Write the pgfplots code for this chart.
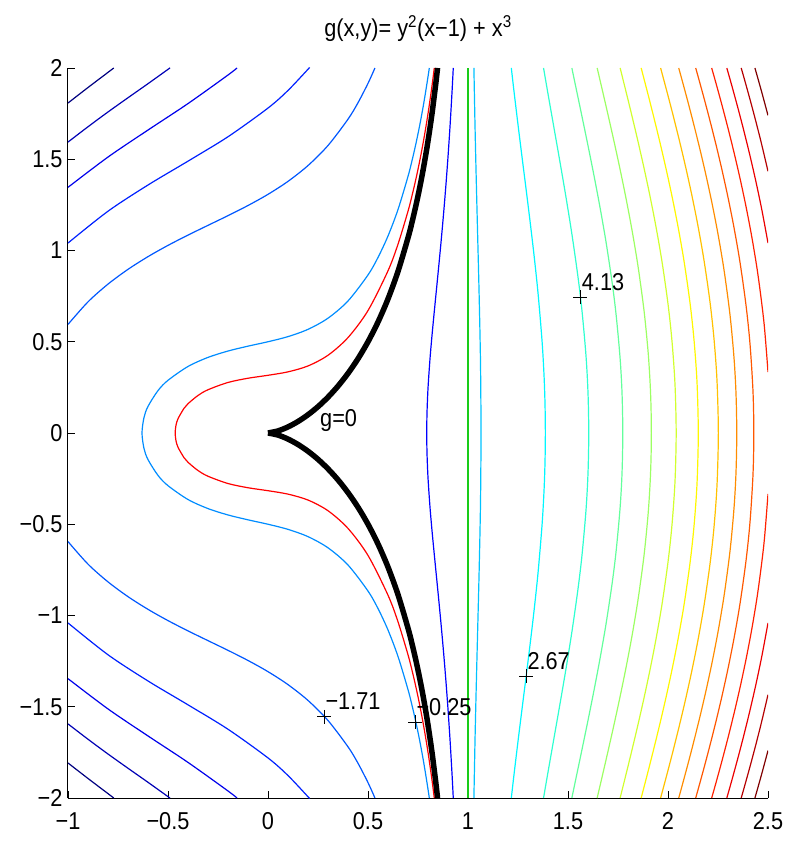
\documentclass[border=0pt]{standalone}
\usepackage{fontspec}
\setmainfont{Liberation Sans}
\usepackage{graphicx}
\usepackage{pgfplots}
\pgfplotsset{compat=1.18}
\definecolor{j1}{rgb}{0,0,0.5}
\definecolor{j2}{rgb}{0,0,0.71}
\definecolor{j3}{rgb}{0,0,0.92}
\definecolor{j4}{rgb}{0,0.13,1}
\definecolor{j5}{rgb}{0,0.34,1}
\definecolor{j6}{rgb}{0,0.55,1}
\definecolor{j7}{rgb}{0,0.76,1}
\definecolor{j8}{rgb}{0,0.97,1}
\definecolor{j9}{rgb}{0.18,1,0.82}
\definecolor{j10}{rgb}{0.39,1,0.61}
\definecolor{j11}{rgb}{0.61,1,0.39}
\definecolor{j12}{rgb}{0.82,1,0.18}
\definecolor{j13}{rgb}{1,0.97,0}
\definecolor{j14}{rgb}{1,0.76,0}
\definecolor{j15}{rgb}{1,0.55,0}
\definecolor{j16}{rgb}{1,0.34,0}
\definecolor{j17}{rgb}{1,0.13,0}
\definecolor{j18}{rgb}{0.92,0,0}
\definecolor{j19}{rgb}{0.71,0,0}
\definecolor{j20}{rgb}{0.5,0,0}
\definecolor{cgreen}{rgb}{0.1,0.8,0.1}
\newcommand\tf{\fontsize{24.5}{29}\selectfont}
\newcommand\sq[1]{\scalebox{0.89}[1]{#1}}
\begin{document}
\begin{tikzpicture}[x=1bp,y=1bp]
\useasboundingbox (-68,-45) rectangle (723,798);
\begin{axis}[
  at={(0,0)}, anchor=south west,
  scale only axis, width=700bp, height=730bp,
  xmin=-1, xmax=2.5, ymin=-2, ymax=2,
  axis x line*=bottom, axis y line*=left,
  axis line style={-, line width=1bp, black},
  tick align=inside, major tick length=7bp,
  tick style={black, line width=0.8bp},
  xtick={-1,-0.5,0,0.5,1,1.5,2,2.5},
  xticklabels={\sq{−1},\sq{−0.5},\sq{0},\sq{0.5},\sq{1},\sq{1.5},\sq{2},\sq{2.5}},
  ytick={-2,-1.5,-1,-0.5,0,0.5,1,1.5,2},
  yticklabels={\sq{−2},\sq{−1.5},\sq{−1},\sq{−0.5},\sq{0},\sq{0.5},\sq{1},\sq{1.5},\sq{2}},
  xticklabel style={font=\tf, yshift=-11bp},
  yticklabel style={font=\tf, xshift=-2bp},
  cl/.style={smooth, line width=1.2bp},
]
% level -7.54
\addplot[cl, j1] coordinates {(-1,1.808) (-0.9,1.893) (-0.8,1.976) (-0.771,2)};
\addplot[cl, j1] coordinates {(-1,-1.808) (-0.9,-1.893) (-0.8,-1.976) (-0.771,-2)};
% level -6.08
\addplot[cl, j2] coordinates {(-1,1.594) (-0.9,1.678) (-0.8,1.759) (-0.7,1.837) (-0.6,1.914) (-0.5,1.9925) (-0.4905,2)};
\addplot[cl, j2] coordinates {(-1,-1.594) (-0.9,-1.678) (-0.8,-1.759) (-0.7,-1.837) (-0.6,-1.914) (-0.5,-1.9925) (-0.4905,-2)};
% level -4.625
\addplot[cl, j3] coordinates {(-1,1.346) (-0.8,1.512) (-0.6,1.660) (-0.4,1.805) (-0.2,1.9615) (-0.155,2)};
\addplot[cl, j3] coordinates {(-1,-1.346) (-0.8,-1.512) (-0.6,-1.660) (-0.4,-1.805) (-0.2,-1.9615) (-0.155,-2)};
% level -3.17
\addplot[cl, j4] coordinates {(-1,1.0408) (-0.8,1.2152) (-0.6,1.3588) (-0.4,1.4895) (-0.2,1.6233) (0,1.7804) (0.1,1.877) (0.2,1.9931) (0.2053,2)};
\addplot[cl, j4] coordinates {(-1,-1.0408) (-0.8,-1.2152) (-0.6,-1.3588) (-0.4,-1.4895) (-0.2,-1.6233) (0,-1.7804) (0.1,-1.877) (0.2,-1.9931) (0.2053,-2)};
% level -1.71
\addplot[cl, j5] coordinates {(-1,0.595) (-0.9,0.7186) (-0.8,0.8158) (-0.7,0.8967) (-0.6,0.9663) (-0.5,1.028) (-0.4,1.0843) (-0.3,1.1378) (-0.2,1.1909) (-0.1,1.2465) (0,1.3077) (0.1,1.3788) (0.2,1.4654) (0.3,1.5753) (0.4,1.7195) (0.45,1.8096) (0.5,1.9157) (0.5347,2)};
\addplot[cl, j5] coordinates {(-1,-0.595) (-0.9,-0.7186) (-0.8,-0.8158) (-0.7,-0.8967) (-0.6,-0.9663) (-0.5,-1.028) (-0.4,-1.0843) (-0.3,-1.1378) (-0.2,-1.1909) (-0.1,-1.2465) (0,-1.3077) (0.1,-1.3788) (0.2,-1.4654) (0.3,-1.5753) (0.4,-1.7195) (0.45,-1.8096) (0.5,-1.9157) (0.5347,-2)};
% level -0.25
\addplot[cl, j6] coordinates {(0.8064,2) (0.8,1.9519) (0.78,1.8148) (0.76,1.6943) (0.74,1.5875) (0.72,1.4920) (0.7,1.4059) (0.65,1.2243) (0.6,1.0794) (0.55,0.9619) (0.5,0.8660) (0.4,0.7234) (0.3,0.6291) (0.2,0.5679) (0.1,0.5281) (0,0.5) (-0.1,0.4758) (-0.2,0.4491) (-0.3,0.4142) (-0.4,0.3645) (-0.5,0.2887) (-0.55,0.2323) (-0.6,0.1458) (-0.62,0.0849) (-0.63,0) (-0.62,-0.0849) (-0.6,-0.1458) (-0.55,-0.2323) (-0.5,-0.2887) (-0.4,-0.3645) (-0.3,-0.4142) (-0.2,-0.4491) (-0.1,-0.4758) (0,-0.5) (0.1,-0.5281) (0.2,-0.5679) (0.3,-0.6291) (0.4,-0.7234) (0.5,-0.8660) (0.55,-0.9619) (0.6,-1.0794) (0.65,-1.2243) (0.7,-1.4059) (0.72,-1.4920) (0.74,-1.5875) (0.76,-1.6943) (0.78,-1.8148) (0.8,-1.9519) (0.8064,-2)};
% level 1.21
\addplot[cl, j7] coordinates {(1.0295,2) (1.035,1.6871) (1.04,1.4446) (1.045,1.2217) (1.05,1.0071) (1.055,0.7873) (1.06,0.5372) (1.063,0.3375) (1.0651,0) (1.063,-0.3375) (1.06,-0.5372) (1.055,-0.7873) (1.05,-1.0071) (1.045,-1.2217) (1.04,-1.4446) (1.035,-1.6871) (1.0295,-2)};
% level 2.67
\addplot[cl, j8] coordinates {(1.2166,-2) (1.23,-1.8718) (1.25,-1.6894) (1.27,-1.5133) (1.29,-1.3390) (1.31,-1.1620) (1.33,-0.9755) (1.35,-0.7677) (1.37,-0.5075) (1.38,-0.3187) (1.385,-0.1606) (1.38675,0) (1.385,0.1606) (1.38,0.3187) (1.37,0.5075) (1.35,0.7677) (1.33,0.9755) (1.31,1.1620) (1.29,1.3390) (1.27,1.5133) (1.25,1.6894) (1.23,1.8718) (1.2166,2)};
% level 4.13
\addplot[cl, j9] coordinates {(1.3777,-2) (1.40,-1.8581) (1.43,-1.6711) (1.46,-1.4839) (1.49,-1.2913) (1.52,-1.0859) (1.55,-0.8540) (1.57,-0.6690) (1.59,-0.4225) (1.6,-0.2198) (1.6038,0) (1.6,0.2198) (1.59,0.4225) (1.57,0.6690) (1.55,0.8540) (1.52,1.0859) (1.49,1.2913) (1.46,1.4839) (1.43,1.6711) (1.40,1.8581) (1.3777,2)};
% level 5.58
\addplot[cl, j10] coordinates {(1.5192,-2) (1.54,-1.8910) (1.57,-1.7338) (1.60,-1.5744) (1.63,-1.4100) (1.66,-1.2364) (1.69,-1.0471) (1.72,-0.8290) (1.74,-0.6527) (1.76,-0.4160) (1.77,-0.2223) (1.7740,0) (1.77,0.2223) (1.76,0.4160) (1.74,0.6527) (1.72,0.8290) (1.69,1.0471) (1.66,1.2364) (1.63,1.4100) (1.60,1.5744) (1.57,1.7338) (1.54,1.8910) (1.5192,2)};
% level 7.04
\addplot[cl, j11] coordinates {(1.6458,-2) (1.67,-1.8864) (1.70,-1.7438) (1.73,-1.5980) (1.76,-1.4464) (1.79,-1.2859) (1.82,-1.1115) (1.85,-0.9140) (1.88,-0.6717) (1.9,-0.4506) (1.91,-0.2848) (1.915,-0.144) (1.9167,0) (1.915,0.144) (1.91,0.2848) (1.9,0.4506) (1.88,0.6717) (1.85,0.9140) (1.82,1.1115) (1.79,1.2859) (1.76,1.4464) (1.73,1.5980) (1.70,1.7438) (1.67,1.8864) (1.6458,2)};
% level 8.5
\addplot[cl, j12] coordinates {(1.7606,-2) (1.79,-1.8707) (1.82,-1.7361) (1.85,-1.5972) (1.88,-1.4520) (1.91,-1.2976) (1.94,-1.1292) (1.97,-0.9386) (2.0,-0.7071) (2.02,-0.5025) (2.035,-0.2649) (2.0408,0) (2.035,0.2649) (2.02,0.5025) (2.0,0.7071) (1.97,0.9386) (1.94,1.1292) (1.91,1.2976) (1.88,1.4520) (1.85,1.5972) (1.82,1.7361) (1.79,1.8707) (1.7606,2)};
% level 9.96
\addplot[cl, j13] coordinates {(1.8658,-2) (1.90,-1.8557) (1.93,-1.7256) (1.96,-1.5906) (1.99,-1.4487) (2.02,-1.2970) (2.05,-1.1310) (2.08,-0.9425) (2.11,-0.7131) (2.13,-0.5107) (2.145,-0.2790) (2.1514,0) (2.145,0.2790) (2.13,0.5107) (2.11,0.7131) (2.08,0.9425) (2.05,1.1310) (2.02,1.2970) (1.99,1.4487) (1.96,1.5906) (1.93,1.7256) (1.90,1.8557) (1.8658,2)};
% level 11.42
\addplot[cl, j14] coordinates {(1.963,-2) (2.0,-1.8484) (2.03,-1.7212) (2.06,-1.5885) (2.09,-1.4486) (2.12,-1.2985) (2.15,-1.1338) (2.18,-0.9462) (2.21,-0.7174) (2.23,-0.5157) (2.245,-0.2860) (2.2517,0) (2.245,0.2860) (2.23,0.5157) (2.21,0.7174) (2.18,0.9462) (2.15,1.1338) (2.12,1.2985) (2.09,1.4486) (2.06,1.5885) (2.03,1.7212) (2.0,1.8484) (1.963,2)};
% level 12.88
\addplot[cl, j15] coordinates {(2.0536,-2) (2.07,-1.9347) (2.10,-1.8126) (2.13,-1.6858) (2.16,-1.5529) (2.19,-1.4117) (2.22,-1.2590) (2.25,-1.0897) (2.28,-0.8938) (2.31,-0.6471) (2.33,-0.4119) (2.34,-0.2153) (2.3438,0) (2.34,0.2153) (2.33,0.4119) (2.31,0.6471) (2.28,0.8938) (2.25,1.0897) (2.22,1.2590) (2.19,1.4117) (2.16,1.5529) (2.13,1.6858) (2.10,1.8126) (2.07,1.9347) (2.0536,2)};
% level 14.33
\addplot[cl, j16] coordinates {(2.1385,-2) (2.15,-1.9549) (2.18,-1.8350) (2.21,-1.7103) (2.24,-1.5796) (2.27,-1.4408) (2.30,-1.2909) (2.33,-1.1252) (2.36,-0.9351) (2.39,-0.7002) (2.41,-0.4880) (2.425,-0.2261) (2.4291,0) (2.425,0.2261) (2.41,0.4880) (2.39,0.7002) (2.36,0.9351) (2.33,1.1252) (2.30,1.2909) (2.27,1.4408) (2.24,1.5796) (2.21,1.7103) (2.18,1.8350) (2.15,1.9549) (2.1385,2)};
% level 15.79
\addplot[cl, j17] coordinates {(2.5,0.3333) (2.48,0.6033) (2.45,0.8652) (2.42,1.0678) (2.39,1.2407) (2.36,1.3952) (2.33,1.5371) (2.30,1.6698) (2.27,1.7956) (2.24,1.9160) (2.2184,2)};
\addplot[cl, j17] coordinates {(2.5,-0.3333) (2.48,-0.6033) (2.45,-0.8652) (2.42,-1.0678) (2.39,-1.2407) (2.36,-1.3952) (2.33,-1.5371) (2.30,-1.6698) (2.27,-1.7956) (2.24,-1.9160) (2.2184,-2)};
% level 17.25
\addplot[cl, j18] coordinates {(2.5,1.0408) (2.47,1.2180) (2.44,1.3752) (2.41,1.5188) (2.38,1.6526) (2.35,1.7789) (2.32,1.8995) (2.2941,2)};
\addplot[cl, j18] coordinates {(2.5,-1.0408) (2.47,-1.2180) (2.44,-1.3752) (2.41,-1.5188) (2.38,-1.6526) (2.35,-1.7789) (2.32,-1.8995) (2.2941,-2)};
% level 18.71
\addplot[cl, j19] coordinates {(2.5,1.4337) (2.47,1.5734) (2.44,1.7041) (2.41,1.8278) (2.38,1.9462) (2.366,2)};
\addplot[cl, j19] coordinates {(2.5,-1.4337) (2.47,-1.5734) (2.44,-1.7041) (2.41,-1.8278) (2.38,-1.9462) (2.366,-2)};
% level 20.17
\addplot[cl, j20] coordinates {(2.5,1.7401) (2.47,1.8622) (2.45,1.9406) (2.4345,2)};
\addplot[cl, j20] coordinates {(2.5,-1.7401) (2.47,-1.8622) (2.45,-1.9406) (2.4345,-2)};
% extra level 1 (vertical line)
\addplot[line width=1.2bp, cgreen] coordinates {(1,-2) (1,2)};
% extra level 0.5
\addplot[cl, blue] coordinates {(0.9263,2) (0.92,1.8664) (0.91,1.6785) (0.9,1.5133) (0.89,1.3650) (0.88,1.2297) (0.87,1.1042) (0.86,0.9858) (0.85,0.8723) (0.84,0.7612) (0.83,0.6498) (0.82,0.5342) (0.81,0.4068) (0.8,0.2449) (0.795,0.1095) (0.7937,0) (0.795,-0.1095) (0.8,-0.2449) (0.81,-0.4068) (0.82,-0.5342) (0.83,-0.6498) (0.84,-0.7612) (0.85,-0.8723) (0.86,-0.9858) (0.87,-1.1042) (0.88,-1.2297) (0.89,-1.3650) (0.9,-1.5133) (0.91,-1.6785) (0.92,-1.8664) (0.9263,-2)};
% extra level -0.1
\addplot[cl, red] coordinates {(0.8314,2) (0.82,1.9023) (0.8,1.7493) (0.78,1.6160) (0.76,1.4986) (0.74,1.3940) (0.72,1.3001) (0.7,1.2152) (0.65,1.0346) (0.6,0.8888) (0.5,0.6708) (0.4,0.5228) (0.3,0.4259) (0.2,0.3674) (0.1,0.3350) (0,0.3162) (-0.1,0.3) (-0.2,0.2769) (-0.3,0.2370) (-0.35,0.2057) (-0.4,0.1604) (-0.42,0.1351) (-0.45,0.0782) (-0.46,0.0427) (-0.4642,0) (-0.46,-0.0427) (-0.45,-0.0782) (-0.42,-0.1351) (-0.4,-0.1604) (-0.35,-0.2057) (-0.3,-0.2370) (-0.2,-0.2769) (-0.1,-0.3) (0,-0.3162) (0.1,-0.3350) (0.2,-0.3674) (0.3,-0.4259) (0.4,-0.5228) (0.5,-0.6708) (0.6,-0.8888) (0.65,-1.0346) (0.7,-1.2152) (0.72,-1.3001) (0.74,-1.3940) (0.76,-1.4986) (0.78,-1.6160) (0.8,-1.7493) (0.82,-1.9023) (0.8314,-2)};
% g = 0
\addplot[smooth, black, line width=5.5bp] coordinates {(0,0) (0.05,0.01147) (0.1,0.0333) (0.15,0.0630) (0.2,0.1) (0.25,0.1443) (0.3,0.1964) (0.35,0.2568) (0.4,0.3266) (0.45,0.4070) (0.5,0.5) (0.55,0.6081) (0.6,0.7348) (0.65,0.8858) (0.7,1.0693) (0.72,1.1546) (0.74,1.2484) (0.76,1.3524) (0.78,1.4687) (0.8,1.6) (0.82,1.7502) (0.84,1.9247) (0.8477,2)};
\addplot[smooth, black, line width=5.5bp] coordinates {(0,0) (0.05,-0.01147) (0.1,-0.0333) (0.15,-0.0630) (0.2,-0.1) (0.25,-0.1443) (0.3,-0.1964) (0.35,-0.2568) (0.4,-0.3266) (0.45,-0.4070) (0.5,-0.5) (0.55,-0.6081) (0.6,-0.7348) (0.65,-0.8858) (0.7,-1.0693) (0.72,-1.1546) (0.74,-1.2484) (0.76,-1.3524) (0.78,-1.4687) (0.8,-1.6) (0.82,-1.7502) (0.84,-1.9247) (0.8477,-2)};
% contour labels
\addplot[only marks, mark=+, mark size=7bp, black, mark options={line width=1bp},
  point meta=explicit symbolic, nodes near coords,
  every node near coord/.append style={anchor=base west, xshift=1bp, yshift=7bp, inner sep=0pt, font=\tf, text=black}]
  coordinates {(0.28,-1.556) [\sq{−1.71}] (0.735,-1.585) [\sq{−0.25}] (1.29,-1.332) [\sq{2.67}] (1.562,0.745) [\sq{4.13}]};
\node[anchor=base west, inner sep=0pt, font=\tf] at (axis cs:0.26,0.033) {\sq{g=0}};
\end{axis}
\node[anchor=base, inner sep=0pt, font=\tf] at ([yshift=31bp]current axis.north) {\sq{g(x,y)= y\textsuperscript{2}(x−1) + x\textsuperscript{3}}};
\end{tikzpicture}
\end{document}
